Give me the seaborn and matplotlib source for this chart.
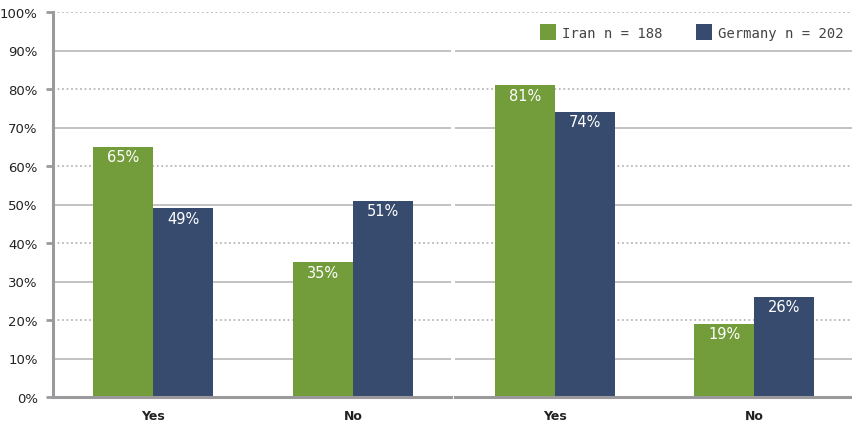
import matplotlib
matplotlib.use("Agg")
import matplotlib.pyplot as plt
import seaborn as sns
import pandas as pd
from matplotlib.ticker import FixedLocator, FuncFormatter

answers = ["Yes", "No"]
countries = ["Iran n = 188", "Germany n = 202"]
left_iran = [65, 35]
left_germany = [49, 51]
right_iran = [81, 19]
right_germany = [74, 26]
y_ticks = list(range(0, 101, 10))

GREEN = "#739C3A"
NAVY = "#374B6E"
GRID = "#b8b8b8"
SPINE = "#9a9a9c"


def build_frame(iran, germany):
    rows = []
    for a, v in zip(answers, iran):
        rows.append({"answer": a, "country": countries[0], "share": v})
    for a, v in zip(answers, germany):
        rows.append({"answer": a, "country": countries[1], "share": v})
    return pd.DataFrame(rows)


sns.set_theme(style="white")
plt.rcParams["font.family"] = ["DejaVu Sans"]

fig = plt.figure(figsize=(8.52, 4.27), dpi=100)
ax_l = fig.add_axes([53 / 852, 29 / 427, 398 / 852, 385 / 427])
ax_r = fig.add_axes([455 / 852, 29 / 427, 397 / 852, 385 / 427])

for ax, iran, germany in [(ax_l, left_iran, left_germany), (ax_r, right_iran, right_germany)]:
    df = build_frame(iran, germany)
    sns.barplot(data=df, x="answer", y="share", hue="country", order=answers,
                hue_order=countries, palette=[GREEN, NAVY], width=0.6,
                saturation=1, ax=ax, legend=(ax is ax_r), zorder=3,
                linewidth=0, edgecolor="none")
    ax.set_xlim(-0.5, 1.49)
    ax.set_ylim(0, 100)
    ax.set_xlabel("")
    ax.set_ylabel("")
    # alternating solid / dotted horizontal guides
    for t in y_ticks[1:]:
        if t % 20 == 0:
            ax.axhline(t, color=GRID, lw=1.3, ls=(0, (1, 1.5)), zorder=1)
        else:
            ax.axhline(t, color=GRID, lw=1.2, ls="-", zorder=1)
    for c in ax.containers:
        labels = [f"{int(round(b.get_height()))}%" for b in c]
        ax.bar_label(c, labels=labels, padding=-12.5, color="white",
                     fontsize=10.5, zorder=4)
    for s in ["top", "right", "left"]:
        ax.spines[s].set_visible(False)
    ax.spines["bottom"].set_color(SPINE)
    ax.spines["bottom"].set_linewidth(2.2)
    ax.spines["bottom"].set_zorder(5)
    ax.tick_params(axis="x", length=0, pad=9, labelsize=9)
    for lab in ax.get_xticklabels():
        lab.set_fontweight("bold")
        lab.set_color("#222222")

# left panel y axis
ax_l.spines["left"].set_visible(True)
ax_l.spines["left"].set_color(SPINE)
ax_l.spines["left"].set_linewidth(2.2)
ax_l.yaxis.set_major_locator(FixedLocator([t for t in y_ticks if t % 20 == 0]))
ax_l.yaxis.set_minor_locator(FixedLocator([t for t in y_ticks if t % 20 == 10]))
fmt = FuncFormatter(lambda v, p: f"{int(v)}%")
ax_l.yaxis.set_major_formatter(fmt)
ax_l.yaxis.set_minor_formatter(fmt)
ax_l.tick_params(axis="y", which="major", left=True, length=5, width=2, color=SPINE,
                 labelsize=9.5, labelcolor="#222222", pad=6)
ax_l.tick_params(axis="y", which="minor", left=True, length=0,
                 labelsize=9.5, labelcolor="#222222", pad=11)

ax_r.set_yticks([])

leg = ax_r.legend(loc="upper right", bbox_to_anchor=(1.0, 0.99), ncol=2, frameon=False,
                  handlelength=1.15, handleheight=1.4, handletextpad=0.45,
                  columnspacing=2.4, borderaxespad=0.2,
                  prop={"family": "DejaVu Sans Mono", "size": 10})
for t in leg.get_texts():
    t.set_color("#444444")

fig.savefig("out.png", dpi=100)
